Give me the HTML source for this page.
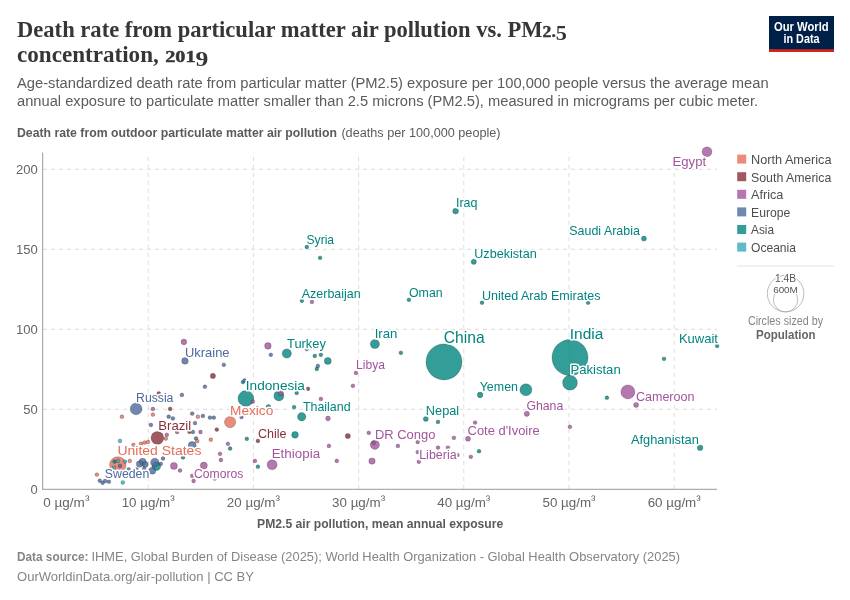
<!DOCTYPE html>
<html lang="en"><head><meta charset="utf-8">
<title>Death rate from particular matter air pollution vs. PM2.5 concentration, 2019</title>
<style>
html,body{margin:0;padding:0;background:#fff;}
body{width:850px;height:600px;overflow:hidden;}
svg{display:block;will-change:transform;}
text{font-family:"Liberation Sans",sans-serif;}
.ttl{font-family:"Liberation Serif",serif;font-weight:bold;font-size:24px;fill:#363636;}
.sub{font-size:15.3px;fill:#5b5b5b;}
.tick{font-size:12.8px;fill:#666;}
.axl{font-size:12px;fill:#5b5b5b;}
.b{font-weight:bold;}
.ft{font-size:13px;fill:#858585;}
.lg{font-size:13.2px;fill:#4e4e4e;}
.lab{paint-order:stroke;stroke:#fff;stroke-width:3.2px;stroke-linejoin:round;}
.grid line{stroke:#ddd;stroke-width:1;stroke-dasharray:4 4;}
</style></head><body>
<svg width="850" height="600" viewBox="0 0 850 600">
<rect width="850" height="600" fill="#fff"/>
<text class="ttl" x="17.0" y="37.0" textLength="525.6" lengthAdjust="spacingAndGlyphs">Death rate from particular matter air pollution vs. PM</text>
<text class="ttl" x="542.6" y="37.0" textLength="24.4" lengthAdjust="spacingAndGlyphs" style="font-size:17.4px;stroke:#363636;stroke-width:0.45px">2.<tspan dy="3.4" style="font-size:22px;stroke-width:0">5</tspan></text>
<text class="ttl" x="17.0" y="62.0" textLength="141.8" lengthAdjust="spacingAndGlyphs">concentration,</text>
<text class="ttl" x="165.2" y="62.0" textLength="43.2" lengthAdjust="spacingAndGlyphs" style="font-size:17.4px;stroke:#363636;stroke-width:0.45px">201<tspan dy="4" style="font-size:22px;stroke-width:0">9</tspan></text>
<text class="sub" x="17.0" y="88.0" textLength="751.6" lengthAdjust="spacingAndGlyphs">Age-standardized death rate from particular matter (PM2.5) exposure per 100,000 people versus the average mean</text>
<text class="sub" x="17.0" y="106.0" textLength="741.2" lengthAdjust="spacingAndGlyphs">annual exposure to particulate matter smaller than 2.5 microns (PM2.5), measured in micrograms per cubic meter.</text>
<g><rect x="769" y="16" width="65" height="36" fill="#002147"/><rect x="769" y="49.2" width="65" height="2.8" fill="#ce261e"/><text x="801.3" y="30.6" text-anchor="middle" textLength="54.7" lengthAdjust="spacingAndGlyphs" style="font-weight:bold;font-size:12.1px;fill:#fff">Our World</text><text x="801.5" y="42.6" text-anchor="middle" textLength="36.1" lengthAdjust="spacingAndGlyphs" style="font-weight:bold;font-size:12.1px;fill:#fff">in Data</text></g>
<text class="axl b" x="17.0" y="137.0" textLength="320.0" lengthAdjust="spacingAndGlyphs">Death rate from outdoor particulate matter air pollution</text>
<text class="axl" x="341.4" y="137.0" textLength="159.2" lengthAdjust="spacingAndGlyphs">(deaths per 100,000 people)</text>
<g class="grid">
<line x1="43" x2="717" y1="409.3" y2="409.3"/>
<line x1="43" x2="717" y1="329.3" y2="329.3"/>
<line x1="43" x2="717" y1="249.3" y2="249.3"/>
<line x1="43" x2="717" y1="169.3" y2="169.3"/>
<line y1="489" y2="152.6" x1="148.2" x2="148.2"/>
<line y1="489" y2="152.6" x1="253.4" x2="253.4"/>
<line y1="489" y2="152.6" x1="358.6" x2="358.6"/>
<line y1="489" y2="152.6" x1="463.8" x2="463.8"/>
<line y1="489" y2="152.6" x1="569.0" x2="569.0"/>
<line y1="489" y2="152.6" x1="674.2" x2="674.2"/>
</g>
<line x1="42.7" x2="42.7" y1="152.5" y2="489.5" stroke="#999" stroke-width="1"/>
<line x1="42.2" x2="717" y1="489.3" y2="489.3" stroke="#999" stroke-width="1"/>
<text class="tick" x="37.7" y="493.6" text-anchor="end" textLength="7.2" lengthAdjust="spacingAndGlyphs">0</text>
<text class="tick" x="37.7" y="413.6" text-anchor="end" textLength="14.5" lengthAdjust="spacingAndGlyphs">50</text>
<text class="tick" x="37.7" y="333.6" text-anchor="end" textLength="21.8" lengthAdjust="spacingAndGlyphs">100</text>
<text class="tick" x="37.7" y="253.6" text-anchor="end" textLength="21.8" lengthAdjust="spacingAndGlyphs">150</text>
<text class="tick" x="37.7" y="173.6" text-anchor="end" textLength="21.8" lengthAdjust="spacingAndGlyphs">200</text>
<text class="tick" x="43.3" y="506.6" textLength="46.1" lengthAdjust="spacingAndGlyphs">0 µg/m<tspan dy="-2.4">³</tspan></text>
<text class="tick" x="148.2" y="506.6" text-anchor="middle" textLength="53.1" lengthAdjust="spacingAndGlyphs">10 µg/m<tspan dy="-2.4">³</tspan></text>
<text class="tick" x="253.4" y="506.6" text-anchor="middle" textLength="53.1" lengthAdjust="spacingAndGlyphs">20 µg/m<tspan dy="-2.4">³</tspan></text>
<text class="tick" x="358.6" y="506.6" text-anchor="middle" textLength="53.1" lengthAdjust="spacingAndGlyphs">30 µg/m<tspan dy="-2.4">³</tspan></text>
<text class="tick" x="463.8" y="506.6" text-anchor="middle" textLength="53.1" lengthAdjust="spacingAndGlyphs">40 µg/m<tspan dy="-2.4">³</tspan></text>
<text class="tick" x="569.0" y="506.6" text-anchor="middle" textLength="53.1" lengthAdjust="spacingAndGlyphs">50 µg/m<tspan dy="-2.4">³</tspan></text>
<text class="tick" x="674.2" y="506.6" text-anchor="middle" textLength="53.1" lengthAdjust="spacingAndGlyphs">60 µg/m<tspan dy="-2.4">³</tspan></text>
<text class="axl b" x="257.1" y="527.9" textLength="246.1" lengthAdjust="spacingAndGlyphs">PM2.5 air pollution, mean annual exposure</text>
<g stroke-width="0.6">
<circle cx="444.0" cy="361.9" r="18" fill="#00847e" fill-opacity="0.8" stroke="#000" stroke-opacity="0.35"/>
<circle cx="570.0" cy="357.6" r="18" fill="#00847e" fill-opacity="0.8" stroke="#000" stroke-opacity="0.35"/>
<circle cx="117.8" cy="464.9" r="8.2" fill="#e56e5a" fill-opacity="0.8" stroke="#000" stroke-opacity="0.35"/>
<circle cx="245.9" cy="398.5" r="7.9" fill="#00847e" fill-opacity="0.8" stroke="#000" stroke-opacity="0.35"/>
<circle cx="570.0" cy="382.7" r="7.4" fill="#00847e" fill-opacity="0.8" stroke="#000" stroke-opacity="0.35"/>
<circle cx="627.9" cy="391.9" r="7" fill="#a2559c" fill-opacity="0.8" stroke="#000" stroke-opacity="0.35"/>
<circle cx="157.4" cy="437.9" r="6.4" fill="#883039" fill-opacity="0.8" stroke="#000" stroke-opacity="0.35"/>
<circle cx="525.9" cy="389.8" r="6" fill="#00847e" fill-opacity="0.8" stroke="#000" stroke-opacity="0.35"/>
<circle cx="136.1" cy="408.9" r="5.9" fill="#4c6a9c" fill-opacity="0.8" stroke="#000" stroke-opacity="0.35"/>
<circle cx="230.1" cy="422.1" r="5.6" fill="#e56e5a" fill-opacity="0.8" stroke="#000" stroke-opacity="0.35"/>
<circle cx="272.1" cy="464.8" r="5" fill="#a2559c" fill-opacity="0.8" stroke="#000" stroke-opacity="0.35"/>
<circle cx="278.9" cy="395.9" r="5" fill="#00847e" fill-opacity="0.8" stroke="#000" stroke-opacity="0.35"/>
<circle cx="707.0" cy="151.8" r="4.9" fill="#a2559c" fill-opacity="0.8" stroke="#000" stroke-opacity="0.35"/>
<circle cx="286.8" cy="353.5" r="4.6" fill="#00847e" fill-opacity="0.8" stroke="#000" stroke-opacity="0.35"/>
<circle cx="374.9" cy="344.0" r="4.6" fill="#00847e" fill-opacity="0.8" stroke="#000" stroke-opacity="0.35"/>
<circle cx="374.8" cy="444.8" r="4.6" fill="#a2559c" fill-opacity="0.8" stroke="#000" stroke-opacity="0.35"/>
<circle cx="156.3" cy="466.1" r="4.4" fill="#00847e" fill-opacity="0.8" stroke="#000" stroke-opacity="0.35"/>
<circle cx="301.7" cy="416.8" r="4.2" fill="#00847e" fill-opacity="0.8" stroke="#000" stroke-opacity="0.35"/>
<circle cx="154.8" cy="462.4" r="4.2" fill="#4c6a9c" fill-opacity="0.8" stroke="#000" stroke-opacity="0.35"/>
<circle cx="192.2" cy="445.5" r="4" fill="#4c6a9c" fill-opacity="0.8" stroke="#000" stroke-opacity="0.35"/>
<circle cx="142.6" cy="461.8" r="3.6" fill="#4c6a9c" fill-opacity="0.8" stroke="#000" stroke-opacity="0.35"/>
<circle cx="152.3" cy="470.8" r="3.5" fill="#4c6a9c" fill-opacity="0.8" stroke="#000" stroke-opacity="0.35"/>
<circle cx="173.9" cy="465.9" r="3.5" fill="#a2559c" fill-opacity="0.8" stroke="#000" stroke-opacity="0.35"/>
<circle cx="203.8" cy="465.6" r="3.5" fill="#a2559c" fill-opacity="0.8" stroke="#000" stroke-opacity="0.35"/>
<circle cx="327.8" cy="360.9" r="3.5" fill="#00847e" fill-opacity="0.8" stroke="#000" stroke-opacity="0.35"/>
<circle cx="295.0" cy="434.8" r="3.4" fill="#00847e" fill-opacity="0.8" stroke="#000" stroke-opacity="0.35"/>
<circle cx="139.6" cy="464.0" r="3.3" fill="#4c6a9c" fill-opacity="0.8" stroke="#000" stroke-opacity="0.35"/>
<circle cx="185.0" cy="360.9" r="3.3" fill="#4c6a9c" fill-opacity="0.8" stroke="#000" stroke-opacity="0.35"/>
<circle cx="267.9" cy="345.9" r="3.3" fill="#a2559c" fill-opacity="0.8" stroke="#000" stroke-opacity="0.35"/>
<circle cx="372.0" cy="461.1" r="3.2" fill="#a2559c" fill-opacity="0.8" stroke="#000" stroke-opacity="0.35"/>
<circle cx="145.3" cy="464.4" r="2.9" fill="#4c6a9c" fill-opacity="0.8" stroke="#000" stroke-opacity="0.35"/>
<circle cx="455.6" cy="211.1" r="2.9" fill="#00847e" fill-opacity="0.8" stroke="#000" stroke-opacity="0.35"/>
<circle cx="183.9" cy="341.9" r="2.8" fill="#a2559c" fill-opacity="0.8" stroke="#000" stroke-opacity="0.35"/>
<circle cx="700.1" cy="447.8" r="2.8" fill="#00847e" fill-opacity="0.8" stroke="#000" stroke-opacity="0.35"/>
<circle cx="480.1" cy="394.9" r="2.8" fill="#00847e" fill-opacity="0.8" stroke="#000" stroke-opacity="0.35"/>
<circle cx="347.8" cy="436.0" r="2.6" fill="#883039" fill-opacity="0.8" stroke="#000" stroke-opacity="0.35"/>
<circle cx="212.9" cy="375.9" r="2.6" fill="#883039" fill-opacity="0.8" stroke="#000" stroke-opacity="0.35"/>
<circle cx="526.8" cy="413.8" r="2.6" fill="#a2559c" fill-opacity="0.8" stroke="#000" stroke-opacity="0.35"/>
<circle cx="473.8" cy="261.8" r="2.6" fill="#00847e" fill-opacity="0.8" stroke="#000" stroke-opacity="0.35"/>
<circle cx="280.8" cy="393.2" r="2.6" fill="#a2559c" fill-opacity="0.8" stroke="#000" stroke-opacity="0.35"/>
<circle cx="425.8" cy="418.9" r="2.5" fill="#00847e" fill-opacity="0.8" stroke="#000" stroke-opacity="0.35"/>
<circle cx="468.0" cy="438.8" r="2.5" fill="#a2559c" fill-opacity="0.8" stroke="#000" stroke-opacity="0.35"/>
<circle cx="636.1" cy="404.9" r="2.5" fill="#a2559c" fill-opacity="0.8" stroke="#000" stroke-opacity="0.35"/>
<circle cx="643.9" cy="238.6" r="2.5" fill="#00847e" fill-opacity="0.8" stroke="#000" stroke-opacity="0.35"/>
<circle cx="268.5" cy="407.1" r="2.5" fill="#00847e" fill-opacity="0.8" stroke="#000" stroke-opacity="0.35"/>
<circle cx="328.0" cy="418.5" r="2.4" fill="#a2559c" fill-opacity="0.8" stroke="#000" stroke-opacity="0.35"/>
<circle cx="120.0" cy="440.9" r="1.9" fill="#38aaba" fill-opacity="0.8" stroke="#000" stroke-opacity="0.35"/>
<circle cx="141.0" cy="443.7" r="1.9" fill="#e56e5a" fill-opacity="0.8" stroke="#000" stroke-opacity="0.35"/>
<circle cx="144.7" cy="442.6" r="1.9" fill="#e56e5a" fill-opacity="0.8" stroke="#000" stroke-opacity="0.35"/>
<circle cx="148.0" cy="441.9" r="1.9" fill="#e56e5a" fill-opacity="0.8" stroke="#000" stroke-opacity="0.35"/>
<circle cx="133.5" cy="445.0" r="1.9" fill="#e56e5a" fill-opacity="0.8" stroke="#000" stroke-opacity="0.35"/>
<circle cx="165.8" cy="438.6" r="1.9" fill="#e56e5a" fill-opacity="0.8" stroke="#000" stroke-opacity="0.35"/>
<circle cx="166.8" cy="434.8" r="1.9" fill="#a2559c" fill-opacity="0.8" stroke="#000" stroke-opacity="0.35"/>
<circle cx="150.9" cy="424.9" r="1.9" fill="#4c6a9c" fill-opacity="0.8" stroke="#000" stroke-opacity="0.35"/>
<circle cx="195.0" cy="423.1" r="1.9" fill="#4c6a9c" fill-opacity="0.8" stroke="#000" stroke-opacity="0.35"/>
<circle cx="189.4" cy="431.8" r="1.9" fill="#883039" fill-opacity="0.8" stroke="#000" stroke-opacity="0.35"/>
<circle cx="177.1" cy="432.0" r="1.9" fill="#a2559c" fill-opacity="0.8" stroke="#000" stroke-opacity="0.35"/>
<circle cx="196.0" cy="438.4" r="1.9" fill="#4c6a9c" fill-opacity="0.8" stroke="#000" stroke-opacity="0.35"/>
<circle cx="197.2" cy="441.2" r="1.9" fill="#e56e5a" fill-opacity="0.8" stroke="#000" stroke-opacity="0.35"/>
<circle cx="180.0" cy="470.5" r="1.9" fill="#a2559c" fill-opacity="0.8" stroke="#000" stroke-opacity="0.35"/>
<circle cx="193.6" cy="481.0" r="1.9" fill="#a2559c" fill-opacity="0.8" stroke="#000" stroke-opacity="0.35"/>
<circle cx="192.2" cy="475.8" r="1.9" fill="#a2559c" fill-opacity="0.8" stroke="#000" stroke-opacity="0.35"/>
<circle cx="163.0" cy="458.5" r="1.9" fill="#4c6a9c" fill-opacity="0.8" stroke="#000" stroke-opacity="0.35"/>
<circle cx="160.8" cy="463.8" r="1.9" fill="#4c6a9c" fill-opacity="0.8" stroke="#000" stroke-opacity="0.35"/>
<circle cx="128.7" cy="469.4" r="1.9" fill="#4c6a9c" fill-opacity="0.8" stroke="#000" stroke-opacity="0.35"/>
<circle cx="136.5" cy="469.4" r="1.9" fill="#4c6a9c" fill-opacity="0.8" stroke="#000" stroke-opacity="0.35"/>
<circle cx="144.2" cy="468.7" r="1.9" fill="#4c6a9c" fill-opacity="0.8" stroke="#000" stroke-opacity="0.35"/>
<circle cx="129.8" cy="460.9" r="1.9" fill="#e56e5a" fill-opacity="0.8" stroke="#000" stroke-opacity="0.35"/>
<circle cx="124.9" cy="461.6" r="1.9" fill="#38aaba" fill-opacity="0.8" stroke="#000" stroke-opacity="0.35"/>
<circle cx="114.6" cy="461.6" r="1.9" fill="#00847e" fill-opacity="0.8" stroke="#000" stroke-opacity="0.35"/>
<circle cx="118.1" cy="460.9" r="1.9" fill="#38aaba" fill-opacity="0.8" stroke="#000" stroke-opacity="0.35"/>
<circle cx="120.0" cy="465.9" r="1.9" fill="#4c6a9c" fill-opacity="0.8" stroke="#000" stroke-opacity="0.35"/>
<circle cx="113.9" cy="467.7" r="1.9" fill="#38aaba" fill-opacity="0.8" stroke="#000" stroke-opacity="0.35"/>
<circle cx="96.9" cy="474.6" r="1.9" fill="#e56e5a" fill-opacity="0.8" stroke="#000" stroke-opacity="0.35"/>
<circle cx="99.8" cy="480.7" r="1.9" fill="#4c6a9c" fill-opacity="0.8" stroke="#000" stroke-opacity="0.35"/>
<circle cx="102.6" cy="482.8" r="1.9" fill="#4c6a9c" fill-opacity="0.8" stroke="#000" stroke-opacity="0.35"/>
<circle cx="105.1" cy="481.0" r="1.9" fill="#4c6a9c" fill-opacity="0.8" stroke="#000" stroke-opacity="0.35"/>
<circle cx="108.9" cy="481.7" r="1.9" fill="#4c6a9c" fill-opacity="0.8" stroke="#000" stroke-opacity="0.35"/>
<circle cx="122.8" cy="482.5" r="1.9" fill="#38aaba" fill-opacity="0.8" stroke="#000" stroke-opacity="0.35"/>
<circle cx="183.0" cy="457.4" r="1.9" fill="#00847e" fill-opacity="0.8" stroke="#000" stroke-opacity="0.35"/>
<circle cx="152.9" cy="408.9" r="1.9" fill="#a2559c" fill-opacity="0.8" stroke="#000" stroke-opacity="0.35"/>
<circle cx="170.1" cy="408.9" r="1.9" fill="#883039" fill-opacity="0.8" stroke="#000" stroke-opacity="0.35"/>
<circle cx="121.9" cy="416.7" r="1.9" fill="#e56e5a" fill-opacity="0.8" stroke="#000" stroke-opacity="0.35"/>
<circle cx="152.9" cy="414.6" r="1.9" fill="#e56e5a" fill-opacity="0.8" stroke="#000" stroke-opacity="0.35"/>
<circle cx="168.7" cy="416.7" r="1.9" fill="#4c6a9c" fill-opacity="0.8" stroke="#000" stroke-opacity="0.35"/>
<circle cx="172.9" cy="418.4" r="1.9" fill="#4c6a9c" fill-opacity="0.8" stroke="#000" stroke-opacity="0.35"/>
<circle cx="192.2" cy="413.6" r="1.9" fill="#4c6a9c" fill-opacity="0.8" stroke="#000" stroke-opacity="0.35"/>
<circle cx="197.9" cy="416.7" r="1.9" fill="#e56e5a" fill-opacity="0.8" stroke="#000" stroke-opacity="0.35"/>
<circle cx="181.9" cy="394.9" r="1.9" fill="#4c6a9c" fill-opacity="0.8" stroke="#000" stroke-opacity="0.35"/>
<circle cx="158.8" cy="393.4" r="1.9" fill="#883039" fill-opacity="0.8" stroke="#000" stroke-opacity="0.35"/>
<circle cx="200.5" cy="432.0" r="1.9" fill="#a2559c" fill-opacity="0.8" stroke="#000" stroke-opacity="0.35"/>
<circle cx="192.9" cy="432.0" r="1.9" fill="#4c6a9c" fill-opacity="0.8" stroke="#000" stroke-opacity="0.35"/>
<circle cx="202.9" cy="415.9" r="1.9" fill="#4c6a9c" fill-opacity="0.8" stroke="#000" stroke-opacity="0.35"/>
<circle cx="209.9" cy="417.6" r="1.9" fill="#4c6a9c" fill-opacity="0.8" stroke="#000" stroke-opacity="0.35"/>
<circle cx="213.8" cy="417.6" r="1.9" fill="#4c6a9c" fill-opacity="0.8" stroke="#000" stroke-opacity="0.35"/>
<circle cx="216.8" cy="429.6" r="1.9" fill="#883039" fill-opacity="0.8" stroke="#000" stroke-opacity="0.35"/>
<circle cx="210.8" cy="439.7" r="1.9" fill="#e56e5a" fill-opacity="0.8" stroke="#000" stroke-opacity="0.35"/>
<circle cx="227.9" cy="443.8" r="1.9" fill="#a2559c" fill-opacity="0.8" stroke="#000" stroke-opacity="0.35"/>
<circle cx="230.1" cy="448.5" r="1.9" fill="#00847e" fill-opacity="0.8" stroke="#000" stroke-opacity="0.35"/>
<circle cx="246.8" cy="438.8" r="1.9" fill="#00847e" fill-opacity="0.8" stroke="#000" stroke-opacity="0.35"/>
<circle cx="257.9" cy="440.9" r="1.9" fill="#883039" fill-opacity="0.8" stroke="#000" stroke-opacity="0.35"/>
<circle cx="220.0" cy="453.8" r="1.9" fill="#a2559c" fill-opacity="0.8" stroke="#000" stroke-opacity="0.35"/>
<circle cx="220.9" cy="460.0" r="1.9" fill="#a2559c" fill-opacity="0.8" stroke="#000" stroke-opacity="0.35"/>
<circle cx="214.7" cy="478.5" r="1.9" fill="#a2559c" fill-opacity="0.8" stroke="#000" stroke-opacity="0.35"/>
<circle cx="254.9" cy="460.9" r="1.9" fill="#a2559c" fill-opacity="0.8" stroke="#000" stroke-opacity="0.35"/>
<circle cx="257.9" cy="466.7" r="1.9" fill="#00847e" fill-opacity="0.8" stroke="#000" stroke-opacity="0.35"/>
<circle cx="294.1" cy="407.1" r="1.9" fill="#00847e" fill-opacity="0.8" stroke="#000" stroke-opacity="0.35"/>
<circle cx="328.9" cy="445.9" r="1.9" fill="#a2559c" fill-opacity="0.8" stroke="#000" stroke-opacity="0.35"/>
<circle cx="336.8" cy="460.9" r="1.9" fill="#a2559c" fill-opacity="0.8" stroke="#000" stroke-opacity="0.35"/>
<circle cx="252.8" cy="401.7" r="1.9" fill="#a2559c" fill-opacity="0.8" stroke="#000" stroke-opacity="0.35"/>
<circle cx="223.8" cy="364.8" r="1.9" fill="#4c6a9c" fill-opacity="0.8" stroke="#000" stroke-opacity="0.35"/>
<circle cx="204.9" cy="386.7" r="1.9" fill="#4c6a9c" fill-opacity="0.8" stroke="#000" stroke-opacity="0.35"/>
<circle cx="242.9" cy="382.1" r="1.9" fill="#00847e" fill-opacity="0.8" stroke="#000" stroke-opacity="0.35"/>
<circle cx="244.5" cy="380.5" r="1.9" fill="#4c6a9c" fill-opacity="0.8" stroke="#000" stroke-opacity="0.35"/>
<circle cx="270.8" cy="354.8" r="1.9" fill="#4c6a9c" fill-opacity="0.8" stroke="#000" stroke-opacity="0.35"/>
<circle cx="314.8" cy="355.9" r="1.9" fill="#00847e" fill-opacity="0.8" stroke="#000" stroke-opacity="0.35"/>
<circle cx="320.9" cy="354.8" r="1.9" fill="#00847e" fill-opacity="0.8" stroke="#000" stroke-opacity="0.35"/>
<circle cx="306.8" cy="349.1" r="1.9" fill="#4c6a9c" fill-opacity="0.8" stroke="#000" stroke-opacity="0.35"/>
<circle cx="317.9" cy="366.0" r="1.9" fill="#4c6a9c" fill-opacity="0.8" stroke="#000" stroke-opacity="0.35"/>
<circle cx="316.8" cy="368.9" r="1.9" fill="#00847e" fill-opacity="0.8" stroke="#000" stroke-opacity="0.35"/>
<circle cx="308.0" cy="388.8" r="1.9" fill="#883039" fill-opacity="0.8" stroke="#000" stroke-opacity="0.35"/>
<circle cx="296.7" cy="392.9" r="1.9" fill="#00847e" fill-opacity="0.8" stroke="#000" stroke-opacity="0.35"/>
<circle cx="241.5" cy="417.0" r="1.9" fill="#4c6a9c" fill-opacity="0.8" stroke="#000" stroke-opacity="0.35"/>
<circle cx="320.9" cy="398.9" r="1.9" fill="#a2559c" fill-opacity="0.8" stroke="#000" stroke-opacity="0.35"/>
<circle cx="355.9" cy="372.9" r="1.9" fill="#a2559c" fill-opacity="0.8" stroke="#000" stroke-opacity="0.35"/>
<circle cx="352.9" cy="385.8" r="1.9" fill="#a2559c" fill-opacity="0.8" stroke="#000" stroke-opacity="0.35"/>
<circle cx="400.9" cy="352.8" r="1.9" fill="#00847e" fill-opacity="0.8" stroke="#000" stroke-opacity="0.35"/>
<circle cx="368.8" cy="432.8" r="1.9" fill="#a2559c" fill-opacity="0.8" stroke="#000" stroke-opacity="0.35"/>
<circle cx="373.7" cy="442.9" r="1.9" fill="#a2559c" fill-opacity="0.8" stroke="#000" stroke-opacity="0.35"/>
<circle cx="397.9" cy="445.9" r="1.9" fill="#a2559c" fill-opacity="0.8" stroke="#000" stroke-opacity="0.35"/>
<circle cx="417.7" cy="442.0" r="1.9" fill="#a2559c" fill-opacity="0.8" stroke="#000" stroke-opacity="0.35"/>
<circle cx="417.7" cy="452.1" r="1.9" fill="#a2559c" fill-opacity="0.8" stroke="#000" stroke-opacity="0.35"/>
<circle cx="418.8" cy="461.8" r="1.9" fill="#a2559c" fill-opacity="0.8" stroke="#000" stroke-opacity="0.35"/>
<circle cx="438.0" cy="421.9" r="1.9" fill="#00847e" fill-opacity="0.8" stroke="#000" stroke-opacity="0.35"/>
<circle cx="438.0" cy="447.6" r="1.9" fill="#a2559c" fill-opacity="0.8" stroke="#000" stroke-opacity="0.35"/>
<circle cx="447.9" cy="447.6" r="1.9" fill="#a2559c" fill-opacity="0.8" stroke="#000" stroke-opacity="0.35"/>
<circle cx="453.9" cy="437.8" r="1.9" fill="#a2559c" fill-opacity="0.8" stroke="#000" stroke-opacity="0.35"/>
<circle cx="457.4" cy="455.1" r="1.9" fill="#a2559c" fill-opacity="0.8" stroke="#000" stroke-opacity="0.35"/>
<circle cx="475.1" cy="422.6" r="1.9" fill="#a2559c" fill-opacity="0.8" stroke="#000" stroke-opacity="0.35"/>
<circle cx="470.8" cy="456.8" r="1.9" fill="#a2559c" fill-opacity="0.8" stroke="#000" stroke-opacity="0.35"/>
<circle cx="479.0" cy="451.2" r="1.9" fill="#00847e" fill-opacity="0.8" stroke="#000" stroke-opacity="0.35"/>
<circle cx="569.9" cy="426.8" r="1.9" fill="#a2559c" fill-opacity="0.8" stroke="#000" stroke-opacity="0.35"/>
<circle cx="606.9" cy="397.7" r="1.9" fill="#00847e" fill-opacity="0.8" stroke="#000" stroke-opacity="0.35"/>
<circle cx="306.8" cy="247.0" r="1.9" fill="#00847e" fill-opacity="0.8" stroke="#000" stroke-opacity="0.35"/>
<circle cx="320.1" cy="257.8" r="1.9" fill="#00847e" fill-opacity="0.8" stroke="#000" stroke-opacity="0.35"/>
<circle cx="301.9" cy="300.8" r="1.9" fill="#00847e" fill-opacity="0.8" stroke="#000" stroke-opacity="0.35"/>
<circle cx="311.9" cy="301.9" r="1.9" fill="#a2559c" fill-opacity="0.8" stroke="#000" stroke-opacity="0.35"/>
<circle cx="408.9" cy="299.8" r="1.9" fill="#00847e" fill-opacity="0.8" stroke="#000" stroke-opacity="0.35"/>
<circle cx="482.0" cy="302.7" r="1.9" fill="#00847e" fill-opacity="0.8" stroke="#000" stroke-opacity="0.35"/>
<circle cx="588.1" cy="302.7" r="1.9" fill="#00847e" fill-opacity="0.8" stroke="#000" stroke-opacity="0.35"/>
<circle cx="664.0" cy="358.8" r="1.9" fill="#00847e" fill-opacity="0.8" stroke="#000" stroke-opacity="0.35"/>
<circle cx="717.1" cy="345.9" r="1.9" fill="#00847e" fill-opacity="0.8" stroke="#000" stroke-opacity="0.35"/>
</g>
<g>
<text class="lab" x="672.5" y="165.7" textLength="33.7" lengthAdjust="spacingAndGlyphs" font-size="13.12" fill="#a2559c">Egypt</text>
<text class="lab" x="456.0" y="206.7" textLength="21.5" lengthAdjust="spacingAndGlyphs" font-size="12.6" fill="#00847e">Iraq</text>
<text class="lab" x="569.3" y="235.0" textLength="70.6" lengthAdjust="spacingAndGlyphs" font-size="12.6" fill="#00847e">Saudi Arabia</text>
<text class="lab" x="306.5" y="243.5" textLength="27.6" lengthAdjust="spacingAndGlyphs" font-size="12.29" fill="#00847e">Syria</text>
<text class="lab" x="474.2" y="257.6" textLength="62.5" lengthAdjust="spacingAndGlyphs" font-size="12.18" fill="#00847e">Uzbekistan</text>
<text class="lab" x="301.8" y="297.6" textLength="58.9" lengthAdjust="spacingAndGlyphs" font-size="12.08" fill="#00847e">Azerbaijan</text>
<text class="lab" x="409.0" y="296.5" textLength="33.6" lengthAdjust="spacingAndGlyphs" font-size="12.08" fill="#00847e">Oman</text>
<text class="lab" x="482.0" y="299.6" textLength="118.4" lengthAdjust="spacingAndGlyphs" font-size="12.08" fill="#00847e">United Arab Emirates</text>
<text class="lab" x="374.7" y="338.2" textLength="22.7" lengthAdjust="spacingAndGlyphs" font-size="12.6" fill="#00847e">Iran</text>
<text class="lab" x="443.7" y="342.6" textLength="40.9" lengthAdjust="spacingAndGlyphs" font-size="16.28" fill="#00847e">China</text>
<text class="lab" x="569.8" y="339.0" textLength="33.6" lengthAdjust="spacingAndGlyphs" font-size="15.02" fill="#00847e">India</text>
<text class="lab" x="678.9" y="342.6" textLength="39.1" lengthAdjust="spacingAndGlyphs" font-size="12.6" fill="#00847e">Kuwait</text>
<text class="lab" x="287.0" y="348.2" textLength="38.9" lengthAdjust="spacingAndGlyphs" font-size="12.6" fill="#00847e">Turkey</text>
<text class="lab" x="185.0" y="356.5" textLength="44.5" lengthAdjust="spacingAndGlyphs" font-size="12.6" fill="#4c6a9c">Ukraine</text>
<text class="lab" x="356.0" y="369.4" textLength="29.0" lengthAdjust="spacingAndGlyphs" font-size="11.87" fill="#a2559c">Libya</text>
<text class="lab" x="570.4" y="374.4" textLength="50.3" lengthAdjust="spacingAndGlyphs" font-size="13.65" fill="#00847e">Pakistan</text>
<text class="lab" x="245.8" y="389.7" textLength="59.1" lengthAdjust="spacingAndGlyphs" font-size="13.65" fill="#00847e">Indonesia</text>
<text class="lab" x="479.7" y="390.8" textLength="38.3" lengthAdjust="spacingAndGlyphs" font-size="12.6" fill="#00847e">Yemen</text>
<text class="lab" x="136.1" y="401.5" textLength="37.3" lengthAdjust="spacingAndGlyphs" font-size="12.92" fill="#4c6a9c">Russia</text>
<text class="lab" x="635.9" y="401.4" textLength="58.6" lengthAdjust="spacingAndGlyphs" font-size="12.6" fill="#a2559c">Cameroon</text>
<text class="lab" x="526.4" y="409.7" textLength="36.9" lengthAdjust="spacingAndGlyphs" font-size="12.29" fill="#a2559c">Ghana</text>
<text class="lab" x="302.9" y="410.9" textLength="47.7" lengthAdjust="spacingAndGlyphs" font-size="12.6" fill="#00847e">Thailand</text>
<text class="lab" x="425.8" y="415.0" textLength="33.4" lengthAdjust="spacingAndGlyphs" font-size="12.6" fill="#00847e">Nepal</text>
<text class="lab" x="230.0" y="415.0" textLength="43.3" lengthAdjust="spacingAndGlyphs" font-size="12.6" fill="#e56e5a">Mexico</text>
<text class="lab" x="158.3" y="429.6" textLength="32.9" lengthAdjust="spacingAndGlyphs" font-size="13.33" fill="#883039">Brazil</text>
<text class="lab" x="467.6" y="434.8" textLength="72.1" lengthAdjust="spacingAndGlyphs" font-size="12.6" fill="#a2559c">Cote d'Ivoire</text>
<text class="lab" x="257.9" y="437.6" textLength="28.6" lengthAdjust="spacingAndGlyphs" font-size="12.18" fill="#883039">Chile</text>
<text class="lab" x="375.0" y="438.8" textLength="60.4" lengthAdjust="spacingAndGlyphs" font-size="12.6" fill="#a2559c">DR Congo</text>
<text class="lab" x="630.9" y="444.0" textLength="67.9" lengthAdjust="spacingAndGlyphs" font-size="12.18" fill="#00847e">Afghanistan</text>
<text class="lab" x="117.4" y="455.3" textLength="84.0" lengthAdjust="spacingAndGlyphs" font-size="13.65" fill="#e56e5a">United States</text>
<text class="lab" x="271.7" y="458.2" textLength="48.4" lengthAdjust="spacingAndGlyphs" font-size="12.6" fill="#a2559c">Ethiopia</text>
<text class="lab" x="419.2" y="458.6" textLength="37.4" lengthAdjust="spacingAndGlyphs" font-size="12.08" fill="#a2559c">Liberia</text>
<text class="lab" x="194.0" y="477.6" textLength="49.3" lengthAdjust="spacingAndGlyphs" font-size="11.87" fill="#a2559c">Comoros</text>
<text class="lab" x="104.8" y="477.6" textLength="44.5" lengthAdjust="spacingAndGlyphs" font-size="12.5" fill="#4c6a9c">Sweden</text>
</g>
<rect x="737.2" y="154.6" width="9" height="9" fill="#e56e5a" fill-opacity="0.8"/><text class="lg" x="751.0" y="164.0" textLength="80.5" lengthAdjust="spacingAndGlyphs">North America</text>
<rect x="737.2" y="172.2" width="9" height="9" fill="#883039" fill-opacity="0.8"/><text class="lg" x="751.0" y="181.6" textLength="80.3" lengthAdjust="spacingAndGlyphs">South America</text>
<rect x="737.2" y="189.8" width="9" height="9" fill="#a2559c" fill-opacity="0.8"/><text class="lg" x="751.0" y="199.2" textLength="32.4" lengthAdjust="spacingAndGlyphs">Africa</text>
<rect x="737.2" y="207.4" width="9" height="9" fill="#4c6a9c" fill-opacity="0.8"/><text class="lg" x="751.0" y="216.8" textLength="39.3" lengthAdjust="spacingAndGlyphs">Europe</text>
<rect x="737.2" y="225.0" width="9" height="9" fill="#00847e" fill-opacity="0.8"/><text class="lg" x="751.0" y="234.4" textLength="23.0" lengthAdjust="spacingAndGlyphs">Asia</text>
<rect x="737.2" y="242.6" width="9" height="9" fill="#38aaba" fill-opacity="0.8"/><text class="lg" x="751.0" y="252.0" textLength="45.0" lengthAdjust="spacingAndGlyphs">Oceania</text>
<line x1="737" x2="834" y1="266" y2="266" stroke="#e3e3e3" stroke-width="1"/>
<circle cx="785.6" cy="293.6" r="18.3" fill="none" stroke="#aaa" stroke-width="0.8"/>
<circle cx="785.6" cy="299.7" r="12.2" fill="none" stroke="#aaa" stroke-width="0.8"/>
<text x="785.6" y="281.8" text-anchor="middle" textLength="21.1" lengthAdjust="spacingAndGlyphs" class="lab" style="font-size:10.3px;fill:#555;stroke-width:2.5px">1.4B</text>
<text x="785.5" y="293" text-anchor="middle" textLength="24.7" lengthAdjust="spacingAndGlyphs" class="lab" style="font-size:8.4px;fill:#555;stroke-width:2px">600M</text>
<text x="785.5" y="324.7" text-anchor="middle" textLength="75.2" lengthAdjust="spacingAndGlyphs" style="font-size:12px;fill:#858585">Circles sized by</text>
<text x="785.8" y="338.6" text-anchor="middle" textLength="59.4" lengthAdjust="spacingAndGlyphs" style="font-size:12px;font-weight:bold;fill:#666">Population</text>
<text class="ft b" x="17.0" y="560.8" textLength="71.5" lengthAdjust="spacingAndGlyphs">Data source:</text>
<text class="ft" x="91.5" y="560.8" textLength="588.5" lengthAdjust="spacingAndGlyphs">IHME, Global Burden of Disease (2025); World Health Organization - Global Health Observatory (2025)</text>
<text class="ft" x="17.0" y="581.0" textLength="237.0" lengthAdjust="spacingAndGlyphs">OurWorldinData.org/air-pollution | CC BY</text>
</svg>
</body></html>
